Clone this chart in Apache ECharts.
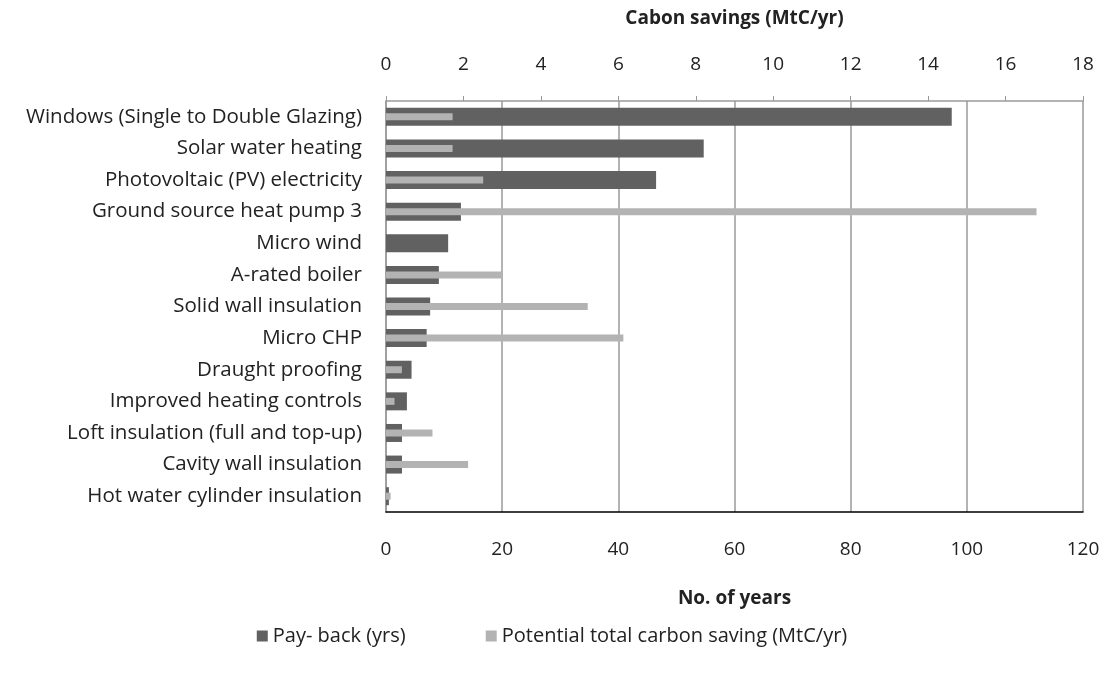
<!DOCTYPE html>
<html>
<head>
<meta charset="utf-8">
<script src="https://cdn.jsdelivr.net/npm/echarts@6/dist/echarts.min.js"></script>
<style>
  html, body { margin: 0; padding: 0; background: #fff; }
  #chart { width: 1104px; height: 675px; }
</style>
</head>
<body>
<div id="chart"></div>
<script>
const categories = [
  "Windows (Single to Double Glazing)",
  "Solar water heating",
  "Photovoltaic (PV) electricity",
  "Ground source heat pump 3",
  "Micro wind",
  "A-rated boiler",
  "Solid wall insulation",
  "Micro CHP",
  "Draught proofing",
  "Improved heating controls",
  "Loft insulation (full and top-up)",
  "Cavity wall insulation",
  "Hot water cylinder insulation"
];
// Pay-back in years (bottom axis)
const payback = [97.4, 54.7, 46.5, 12.9, 10.7, 9.1, 7.6, 7.0, 4.4, 3.6, 2.75, 2.75, 0.5];
// Potential total carbon saving in MtC/yr (top axis)
const carbon = [1.72, 1.72, 2.51, 16.8, 0, 3.01, 5.21, 6.13, 0.41, 0.22, 1.2, 2.12, 0.12];

const yearTicks = { min: 0, max: 120, interval: 20 };
const carbonTicks = { min: 0, max: 18, interval: 2 };

const font = "Open Sans";
const textColor = "#222";

const chart = echarts.init(document.getElementById("chart"));
chart.setOption({
  animation: false,
  textStyle: { fontFamily: font },
  grid: { left: 386, right: 21, top: 101, bottom: 163 },
  legend: {
    bottom: 24,
    left: "center",
    itemWidth: 11,
    itemHeight: 11,
    itemGap: 80,
    icon: "rect",
    textStyle: { fontFamily: font, fontSize: 20, color: textColor },
    data: ["Pay- back (yrs)", "Potential total carbon saving (MtC/yr)"]
  },
  xAxis: [
    {
      type: "value",
      position: "bottom",
      min: yearTicks.min,
      max: yearTicks.max,
      interval: yearTicks.interval,
      name: "No. of years",
      nameLocation: "middle",
      nameGap: 77,
      nameTextStyle: { fontFamily: font, fontSize: 19, fontWeight: "bold", color: textColor },
      axisLine: { show: true, lineStyle: { color: "#000", width: 1.5 } },
      axisTick: { show: false },
      axisLabel: { fontSize: 19, color: textColor, margin: 28 },
      splitLine: { show: true, lineStyle: { color: "#9a9a9a", width: 1.5 } }
    },
    {
      type: "value",
      position: "top",
      min: carbonTicks.min,
      max: carbonTicks.max,
      interval: carbonTicks.interval,
      name: "Cabon savings (MtC/yr)",
      nameLocation: "middle",
      nameGap: 73,
      nameTextStyle: { fontFamily: font, fontSize: 19, fontWeight: "bold", color: textColor },
      axisLine: { show: true, lineStyle: { color: "#9a9a9a", width: 1.5 } },
      axisTick: { show: true, length: 5, lineStyle: { color: "#9a9a9a" } },
      axisLabel: { fontSize: 19, color: textColor, margin: 27 },
      splitLine: { show: false }
    }
  ],
  yAxis: [
    {
      type: "category",
      data: categories,
      inverse: true,
      axisLine: { show: true, lineStyle: { color: "#9a9a9a", width: 1.5 } },
      axisTick: { show: false },
      axisLabel: { fontSize: 20.5, color: textColor, margin: 24 }
    },
    {
      type: "category",
      data: categories,
      inverse: true,
      show: false
    }
  ],
  series: [
    {
      name: "Pay- back (yrs)",
      type: "bar",
      xAxisIndex: 0,
      yAxisIndex: 0,
      data: payback,
      barWidth: 18,
      itemStyle: { color: "#616161" }
    },
    {
      name: "Potential total carbon saving (MtC/yr)",
      type: "bar",
      xAxisIndex: 1,
      yAxisIndex: 1,
      data: carbon,
      barWidth: 7,
      itemStyle: { color: "#b3b3b3" }
    }
  ]
});
</script>
</body>
</html>
